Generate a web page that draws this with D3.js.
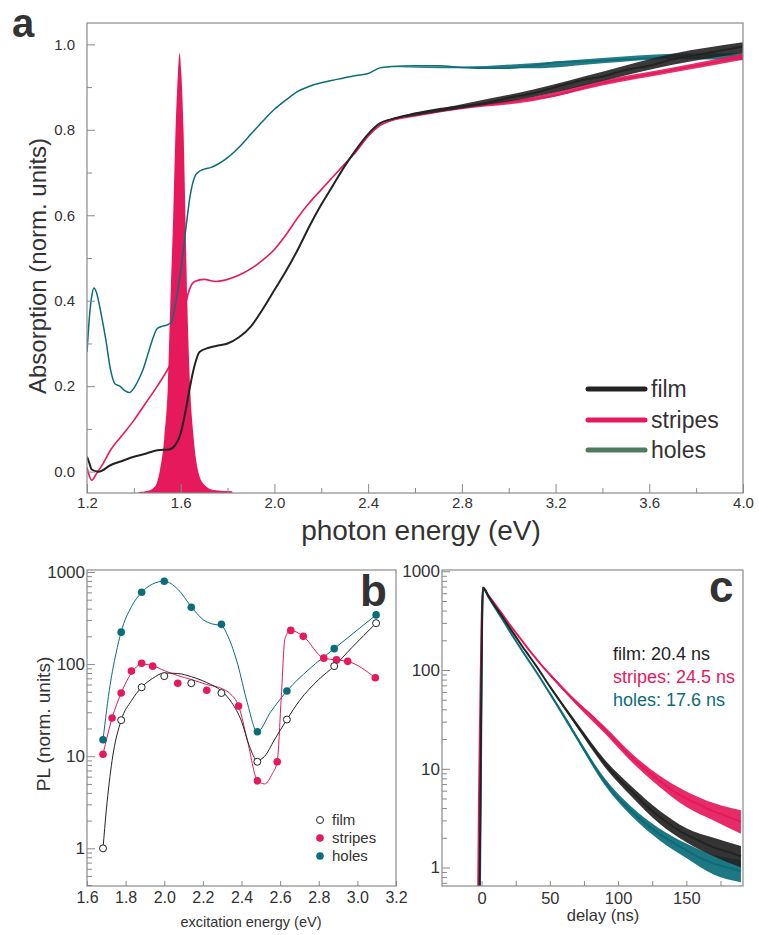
<!DOCTYPE html>
<html><head><meta charset="utf-8">
<script src="https://cdn.jsdelivr.net/npm/d3@7"></script>
<style>
body{margin:0;background:#fff}
svg{display:block;font-family:"Liberation Sans",Arial,Helvetica,sans-serif}
text{font-family:"Liberation Sans",Arial,Helvetica,sans-serif;fill:#333}
</style></head>
<body><svg id="chart" width="759" height="935" font-family="Liberation Sans, Arial, sans-serif"></svg>
<script>
// ---------- Panel a : absorption ----------
const filmE   = [1.20,1.21,1.22,1.25,1.30,1.35,1.40,1.45,1.50,1.55,1.58,1.60,1.62,1.64,1.66,1.68,1.72,1.76,1.80,1.85,1.90,1.95,2.00,2.05,2.10,2.15,2.20,2.25,2.30,2.35,2.40,2.45,2.50,2.60,2.70,2.80,2.90,3.00,3.10,3.20,3.30,3.40,3.50,3.60,3.70,3.80,3.90,4.00];
const filmA   = [0.035,0.02,0.005,0.0,0.015,0.025,0.035,0.042,0.05,0.052,0.065,0.09,0.14,0.20,0.25,0.28,0.29,0.295,0.30,0.315,0.34,0.38,0.425,0.47,0.52,0.575,0.625,0.67,0.715,0.755,0.79,0.815,0.825,0.838,0.848,0.855,0.862,0.875,0.885,0.90,0.915,0.925,0.94,0.95,0.965,0.975,0.985,0.995];
const stripesE = [1.20,1.21,1.22,1.24,1.27,1.30,1.35,1.40,1.45,1.50,1.55,1.58,1.60,1.62,1.64,1.66,1.70,1.75,1.80,1.85,1.90,1.95,2.00,2.05,2.10,2.15,2.20,2.25,2.30,2.35,2.40,2.45,2.50,2.60,2.70,2.80,2.90,3.00,3.10,3.20,3.30,3.40,3.50,3.60,3.70,3.80,3.90,4.00];
const stripesA = [0.01,-0.01,-0.02,-0.005,0.02,0.05,0.085,0.12,0.16,0.20,0.245,0.28,0.33,0.39,0.43,0.445,0.45,0.445,0.45,0.46,0.475,0.495,0.52,0.555,0.595,0.63,0.66,0.69,0.72,0.75,0.785,0.81,0.822,0.838,0.845,0.852,0.858,0.865,0.872,0.88,0.895,0.91,0.92,0.93,0.94,0.95,0.96,0.972];
const holesE  = [1.20,1.21,1.22,1.23,1.24,1.26,1.28,1.30,1.32,1.34,1.36,1.38,1.40,1.42,1.44,1.46,1.48,1.50,1.52,1.54,1.56,1.58,1.60,1.62,1.64,1.66,1.68,1.70,1.73,1.76,1.80,1.85,1.90,1.95,2.00,2.05,2.10,2.15,2.20,2.25,2.30,2.35,2.40,2.45,2.50,2.60,2.70,2.80,2.90,3.00,3.10,3.20,3.30,3.40,3.50,3.60,3.70,3.80,3.90,4.00];
const holesA  = [0.28,0.36,0.41,0.43,0.42,0.37,0.31,0.24,0.205,0.20,0.19,0.185,0.195,0.215,0.24,0.275,0.31,0.335,0.34,0.343,0.35,0.40,0.47,0.56,0.645,0.69,0.703,0.708,0.712,0.72,0.735,0.76,0.79,0.82,0.848,0.87,0.89,0.902,0.91,0.916,0.922,0.927,0.932,0.945,0.948,0.95,0.95,0.946,0.944,0.944,0.95,0.958,0.96,0.962,0.965,0.968,0.972,0.975,0.975,0.97];
// noise envelope of the high-energy parts
const aTailE     = [2.5,2.8,3.1,3.4,3.7,4.0];
const filmLoA    = [0.824,0.85,0.876,0.914,0.952,0.98];
const filmHiA    = [0.827,0.86,0.894,0.936,0.978,1.005];
const stripesLoA = [0.821,0.848,0.867,0.904,0.934,0.964];
const stripesHiA = [0.823,0.856,0.877,0.916,0.946,0.978];
const holesLoA   = [0.947,0.944,0.944,0.956,0.966,0.963];
const holesHiA   = [0.949,0.948,0.956,0.968,0.978,0.98];
const peakE   = [1.42,1.46,1.49,1.51,1.53,1.545,1.556,1.568,1.578,1.588,1.595,1.603,1.612,1.62,1.628,1.64,1.655,1.675,1.70,1.74,1.82];
const peakA   = [-0.048,-0.045,-0.035,0.0,0.08,0.2,0.4,0.6,0.8,0.93,0.98,0.93,0.8,0.6,0.4,0.2,0.08,0.0,-0.03,-0.043,-0.046];
const aXTicks = [1.2,1.6,2.0,2.4,2.8,3.2,3.6,4.0];
const aXMinor = [1.4,1.8,2.2,2.6,3.0,3.4,3.8];
const aYTicks = [0.0,0.2,0.4,0.6,0.8,1.0];
const aYMinor = [0.1,0.3,0.5,0.7,0.9];
const legendA = ["film","stripes","holes"];

// ---------- Panel b : PL vs excitation ----------
const bFilmE = [1.683,1.777,1.883,2.0,2.14,2.296,2.482,2.635,2.88,3.097];
const bFilmV = [1.0,24.6,56,74,62,48.5,8.7,25,95,278];
const bStripesE = [1.683,1.73,1.777,1.83,1.883,1.94,2.07,2.22,2.385,2.482,2.585,2.655,2.72,2.826,2.892,2.95,3.093];
const bStripesV = [10.5,26,48.5,84,102,95,62,52,35,5.4,8.7,232,200,116,111,107,71];
const bHolesE = [1.683,1.777,1.883,2.0,2.14,2.296,2.482,2.635,2.88,3.097];
const bHolesV = [15.1,222,603,794,414,270,18.4,51,147,342];
// smooth guide curves (nodes)
const fitFilmE = [1.683,1.70,1.73,1.777,1.83,1.883,1.94,2.0,2.07,2.14,2.22,2.296,2.35,2.40,2.44,2.482,2.52,2.57,2.635,2.70,2.80,2.88,2.97,3.097];
const fitFilmV = [1.0,2.6,9,24.6,40,56,70,80,79,73,63,51,38,24,13,9,10,15,25,40,68,95,150,278];
const fitStripesE = [1.683,1.73,1.777,1.83,1.883,1.94,2.0,2.07,2.14,2.22,2.30,2.34,2.385,2.43,2.482,2.52,2.56,2.585,2.605,2.625,2.655,2.72,2.826,2.892,2.95,3.093];
const fitStripesV = [10.5,26,48.5,80,100,96,85,75,68,60,54,48,35,15,5.5,5.0,6.5,8.7,40,190,232,200,116,111,107,71];
const fitHolesE = [1.683,1.72,1.75,1.777,1.83,1.883,1.94,2.0,2.07,2.14,2.20,2.25,2.296,2.33,2.38,2.43,2.482,2.55,2.635,2.75,2.88,3.097];
const fitHolesV = [15.1,60,130,225,420,600,740,794,650,420,305,272,262,200,100,38,18.4,30,51,88,147,342];
const bXTicks = [1.6,1.8,2.0,2.2,2.4,2.6,2.8,3.0,3.2];
const bYTicks = [1,10,100,1000];

// ---------- Panel c : PL decay ----------
const cFilmT = [-2.5,-1.5,-0.5,0.3,1,5,10,15,20,25,30,35,40,50,60,70,80,90,100,110,120,130,140,150,160,170,180,190];
const cFilmV = [0.3,0.6,20,300,682,560,440,350,275,218,172,138,110,68,43,27.5,17.5,11.5,8.0,5.9,4.3,3.3,2.6,2.15,1.85,1.6,1.45,1.3];
const cStripesT = [-3.5,-2.5,-2.0,-1.0,0,1,5,10,15,20,25,30,35,40,50,60,70,80,90,100,110,120,130,140,150,160,170,180,190];
const cStripesV = [0.3,0.6,3.9,40,300,682,570,460,370,295,240,195,158,130,90,64,46,35,25,18,13,9.8,7.6,6.0,5.0,4.3,3.7,3.3,2.9];
const cHolesT = [-2.0,-1.2,-0.3,0.4,1,5,10,15,20,25,30,35,40,50,60,70,80,90,100,110,120,130,140,150,160,170,180,190];
const cHolesV = [0.3,0.6,20,300,682,550,425,330,255,198,155,122,96,58,35,20.5,12,7.5,5.0,3.7,2.8,2.2,1.8,1.5,1.25,1.1,1.0,0.92];
// noise envelope of the tails
const tailT = [50,70,90,110,130,150,170,190];
const cFilmLo = [66,26,10.5,5.2,2.8,1.8,1.3,1.0];
const cFilmHi = [70,29,12.5,6.6,3.8,2.5,2.0,1.65];
const cStripesLo = [87,43.5,23,11.7,6.6,4.1,3.0,2.2];
const cStripesHi = [93,48.5,27,14.3,8.6,5.9,4.5,3.8];
const cHolesLo = [56,19.5,6.9,3.3,1.9,1.25,0.85,0.71];
const cHolesHi = [60,21.5,8.1,4.1,2.5,1.75,1.35,1.2];
const cXTicks = [0,50,100,150];
const cXMinor = [25,75,125,175];
const cYTicks = [1,10,100,1000];
const cLabels = ["film: 20.4 ns","stripes: 24.5 ns","holes: 17.6 ns"];

// ---------- styles ----------
const FONT = "Liberation Sans, Arial, sans-serif";
const BLACK = "#232323", RED = "#e5195c", TEAL = "#0b6d78", LEGTEAL = "#4e7b5e";
const FRAME = "#8a8a8a";

const svg = d3.select("#chart");
svg.append("rect").attr("width",759).attr("height",935).attr("fill","#fff");

function zip(xs, ys){ return xs.map((x,i)=>[x,ys[i]]); }
function zip3(xs, a, b){ return xs.map((x,i)=>[x,a[i],b[i]]); }
function frame(g, x0, y0, w, h){
  g.append("rect").attr("x",x0).attr("y",y0).attr("width",w).attr("height",h)
   .attr("fill","none").attr("stroke",FRAME).attr("stroke-width",1.2);
}
function clip(id, x0,y0,w,h){
  svg.append("clipPath").attr("id",id).append("rect").attr("x",x0).attr("y",y0).attr("width",w).attr("height",h);
}
function styleAxis(a, size){
  a.attr("font-family",FONT);
  a.select(".domain").remove();
  a.selectAll("line").attr("stroke",FRAME);
  a.selectAll("text").attr("font-size",size).attr("fill","#333").attr("font-family",FONT);
}

// ================= Panel a =================
{
  const L=87, R=743, T=23, B=493;
  const x = d3.scaleLinear().domain([1.2,4.0]).range([L,R]);
  const y = d3.scaleLinear().domain([-0.05,1.05]).range([B,T]);
  clip("clipA", L, T, R-L, B-T);
  const g = svg.append("g");
  const pg = g.append("g").attr("clip-path","url(#clipA)");

  const area = d3.area().x(d=>x(d[0])).y0(y(-0.05)).y1(d=>y(d[1])).curve(d3.curveMonotoneX);
  pg.append("path").datum(zip(peakE,peakA)).attr("d",area).attr("fill",RED);

  const line = d3.line().x(d=>x(d[0])).y(d=>y(d[1])).curve(d3.curveMonotoneX);
  const band = d3.area().x(d=>x(d[0])).y0(d=>y(d[1])).y1(d=>y(d[2])).curve(d3.curveMonotoneX);
  pg.append("path").datum(zip3(aTailE,holesLoA,holesHiA)).attr("d",band).attr("fill",TEAL).attr("opacity",0.9);
  pg.append("path").datum(zip(holesE,holesA)).attr("d",line).attr("fill","none").attr("stroke",TEAL).attr("stroke-width",1.5);
  pg.append("path").datum(zip3(aTailE,stripesLoA,stripesHiA)).attr("d",band).attr("fill",RED).attr("opacity",0.9);
  pg.append("path").datum(zip(stripesE,stripesA)).attr("d",line).attr("fill","none").attr("stroke",RED).attr("stroke-width",1.6);
  pg.append("path").datum(zip3(aTailE,filmLoA,filmHiA)).attr("d",band).attr("fill",BLACK).attr("opacity",0.9);
  pg.append("path").datum(zip(filmE,filmA)).attr("d",line).attr("fill","none").attr("stroke",BLACK).attr("stroke-width",2);

  const xa = g.append("g").attr("transform",`translate(0,${B})`)
    .call(d3.axisBottom(x).tickValues(aXTicks).tickFormat(d3.format(".1f")).tickSize(-9).tickPadding(4));
  const xm = g.append("g").attr("transform",`translate(0,${B})`)
    .call(d3.axisBottom(x).tickValues(aXMinor).tickFormat("").tickSize(-5));
  const ya = g.append("g").attr("transform",`translate(${L},0)`)
    .call(d3.axisLeft(y).tickValues(aYTicks).tickFormat(d3.format(".1f")).tickSize(-8).tickPadding(12));
  const ym = g.append("g").attr("transform",`translate(${L},0)`)
    .call(d3.axisLeft(y).tickValues(aYMinor).tickFormat("").tickSize(-5));
  [xa,xm,ya,ym].forEach(a=>styleAxis(a,15));
  frame(g, L, T, R-L, B-T);

  g.append("text").attr("x",421).attr("y",540).attr("text-anchor","middle").attr("font-size",28).text("photon energy (eV)");
  g.append("text").attr("transform","translate(46,266) rotate(-90)").attr("text-anchor","middle").attr("font-size",24).text("Absorption (norm. units)");
  g.append("text").attr("x",12).attr("y",37).attr("font-size",40).attr("font-weight","bold").attr("fill","#333").text("a");

  const cols=[BLACK,RED,LEGTEAL], ly=[389,420,450];
  legendA.forEach((s,i)=>{
    g.append("line").attr("x1",588).attr("x2",645).attr("y1",ly[i]).attr("y2",ly[i]).attr("stroke",cols[i]).attr("stroke-width",5).attr("stroke-linecap","round");
    g.append("text").attr("x",651).attr("y",ly[i]+8).attr("font-size",23).text(s);
  });
}

// ================= Panel b =================
{
  const L=87, R=396, T=570, B=886;
  const x = d3.scaleLinear().domain([1.6,3.2]).range([L,R]);
  const y = d3.scaleLog().domain([0.39,1050]).range([B,T]);
  clip("clipB", L, T, R-L, B-T);
  const g = svg.append("g");
  const pg = g.append("g").attr("clip-path","url(#clipB)");
  const line = d3.line().x(d=>x(d[0])).y(d=>y(d[1])).curve(d3.curveMonotoneX);
  pg.append("path").datum(zip(fitHolesE,fitHolesV)).attr("d",line).attr("fill","none").attr("stroke",TEAL).attr("stroke-width",1);
  pg.append("path").datum(zip(fitStripesE,fitStripesV)).attr("d",line).attr("fill","none").attr("stroke",RED).attr("stroke-width",1);
  pg.append("path").datum(zip(fitFilmE,fitFilmV)).attr("d",line).attr("fill","none").attr("stroke",BLACK).attr("stroke-width",1);

  pg.selectAll(".hp").data(zip(bHolesE,bHolesV)).join("circle").attr("cx",d=>x(d[0])).attr("cy",d=>y(d[1])).attr("r",3.8).attr("fill",TEAL);
  pg.selectAll(".sp").data(zip(bStripesE,bStripesV)).join("circle").attr("cx",d=>x(d[0])).attr("cy",d=>y(d[1])).attr("r",3.8).attr("fill",RED);
  pg.selectAll(".fp").data(zip(bFilmE,bFilmV)).join("circle").attr("cx",d=>x(d[0])).attr("cy",d=>y(d[1])).attr("r",3.5).attr("fill","#fff").attr("stroke",BLACK).attr("stroke-width",1);

  const minor=[]; [0.1,1,10,100].forEach(p=>{for(let k=2;k<=9;k++){const v=k*p; if(v>=0.39&&v<=1050) minor.push(v);}});
  const xa = g.append("g").attr("transform",`translate(0,${B})`)
    .call(d3.axisBottom(x).tickValues(bXTicks).tickFormat(d3.format(".1f")).tickSize(-5).tickPadding(6));
  const ya = g.append("g").attr("transform",`translate(${L},0)`)
    .call(d3.axisLeft(y).tickValues(bYTicks).tickFormat(d3.format("d")).tickSize(-8).tickPadding(2));
  const ym = g.append("g").attr("transform",`translate(${L},0)`)
    .call(d3.axisLeft(y).tickValues(minor).tickFormat("").tickSize(-5));
  [xa,ya,ym].forEach(a=>styleAxis(a,16));
  ya.selectAll("text").attr("font-size",17);
  frame(g, L, T, R-L, B-T);

  g.append("text").attr("x",251).attr("y",927).attr("text-anchor","middle").attr("font-size",14.5).text("excitation energy (eV)");
  g.append("text").attr("transform","translate(50,724) rotate(-90)").attr("text-anchor","middle").attr("font-size",19).text("PL (norm. units)");
  g.append("text").attr("x",360).attr("y",606).attr("font-size",44).attr("font-weight","bold").attr("fill","#333").text("b");

  const ly=[820,838,856];
  legendA.forEach((s,i)=>{
    const c = g.append("circle").attr("cx",320).attr("cy",ly[i]).attr("r",i==0?3.5:3.8);
    if(i==0) c.attr("fill","#fff").attr("stroke",BLACK).attr("stroke-width",1); else c.attr("fill",i==1?RED:TEAL);
    g.append("text").attr("x",332).attr("y",ly[i]+5).attr("font-size",15).text(s);
  });
}

// ================= Panel c =================
{
  const L=442, R=743, T=570, B=886;
  const x = d3.scaleLinear().domain([-29,191.5]).range([L,R]);
  const y = d3.scaleLog().domain([0.65,1030]).range([B,T]);
  clip("clipC", L, T, R-L, B-T);
  const g = svg.append("g");
  const pg = g.append("g").attr("clip-path","url(#clipC)");
  const line = d3.line().x(d=>x(d[0])).y(d=>y(d[1])).curve(d3.curveMonotoneX);
  const band = d3.area().x(d=>x(d[0])).y0(d=>y(d[1])).y1(d=>y(d[2])).curve(d3.curveMonotoneX);
  const sets = [[cStripesT,cStripesV,cStripesLo,cStripesHi,RED],[cFilmT,cFilmV,cFilmLo,cFilmHi,BLACK],[cHolesT,cHolesV,cHolesLo,cHolesHi,TEAL]];
  [sets[0],sets[2],sets[1]].forEach(s=>{
    pg.append("path").datum(zip3(tailT,s[2],s[3])).attr("d",band).attr("fill",s[4]).attr("opacity",0.92);
    pg.append("path").datum(zip(s[0],s[1])).attr("d",line).attr("fill","none").attr("stroke",s[4]).attr("stroke-width",2);
  });

  const minor=[]; [0.1,1,10,100].forEach(p=>{for(let k=2;k<=9;k++){const v=k*p; if(v>=0.65&&v<=1030) minor.push(v);}});
  const xa = g.append("g").attr("transform",`translate(0,${B})`)
    .call(d3.axisBottom(x).tickValues(cXTicks).tickFormat(d3.format("d")).tickSize(-5).tickPadding(6));
  const xm = g.append("g").attr("transform",`translate(0,${B})`)
    .call(d3.axisBottom(x).tickValues(cXMinor).tickFormat("").tickSize(-5));
  const ya = g.append("g").attr("transform",`translate(${L},0)`)
    .call(d3.axisLeft(y).tickValues(cYTicks).tickFormat(d3.format("d")).tickSize(-8).tickPadding(2));
  const ym = g.append("g").attr("transform",`translate(${L},0)`)
    .call(d3.axisLeft(y).tickValues(minor).tickFormat("").tickSize(-5));
  [xa,xm,ya,ym].forEach(a=>styleAxis(a,16.5));
  ya.selectAll("text").attr("font-size",17);
  frame(g, L, T, R-L, B-T);

  g.append("text").attr("x",603).attr("y",921).attr("text-anchor","middle").attr("font-size",16.5).text("delay (ns)");
  g.append("text").attr("x",709).attr("y",602).attr("font-size",44).attr("font-weight","bold").attr("fill","#333").text("c");
  const cc=[BLACK,RED,TEAL], by=[660,683,706];
  cLabels.forEach((s,i)=>g.append("text").attr("x",613).attr("y",by[i]).attr("font-size",18).style("fill",cc[i]).text(s));
}
</script></body></html>
